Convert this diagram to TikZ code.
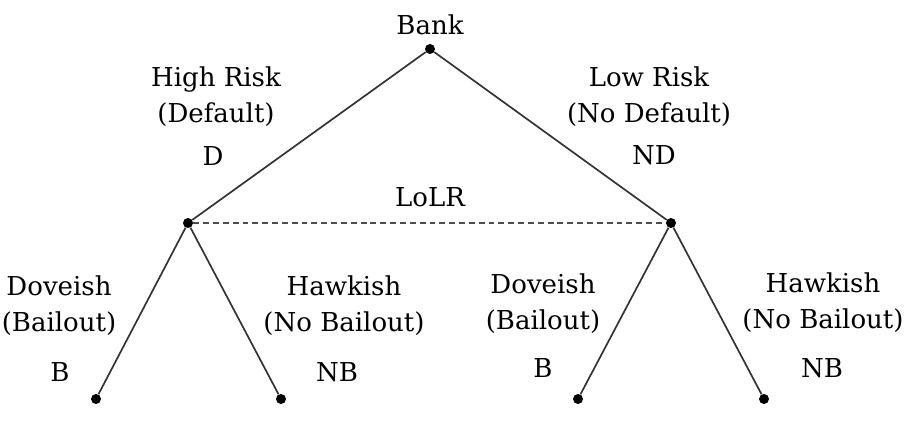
\documentclass[tikz,border=0pt]{standalone}
\usepackage{fontspec}
\setmainfont{DejaVu Serif}
\usetikzlibrary{positioning}
\tikzset{
  dot/.style={circle,fill=black,inner sep=0pt,minimum size=2.5mm},
  lbl/.style={align=center,anchor=base,inner sep=0pt,font=\fontsize{18.5}{26.2}\selectfont},
  branch/.style={line width=1.2pt,black!80},
  lolr/.style={line width=1.2pt,black!70,dash pattern=on 4.2pt off 2.8pt},
}
\begin{document}
\begin{tikzpicture}[x=0.025cm,y=-0.025cm]
    \useasboundingbox (0,0) rectangle (914,444);
    %% Decision points
    \node[dot] (bank) at (430,49)  {};
    \node[dot] (hr)   at (188,223) {};
    \node[dot] (lr)   at (671,223) {};
    \node[dot] (hrb)  at (96,399)  {};
    \node[dot] (hrnb) at (281,399) {};
    \node[dot] (lrb)  at (578,399) {};
    \node[dot] (lrnb) at (764,399) {};
    %% Branches
    \draw[branch] (bank)--(hr);
    \draw[branch] (bank)--(lr);
    \draw[branch] (hr)--(hrb);
    \draw[branch] (hr)--(hrnb);
    \draw[branch] (lr)--(lrb);
    \draw[branch] (lr)--(lrnb);
    %% Information set
    \draw[lolr] (hr)--(lr);
    %% Labels
    \node[lbl] (banklbl) at (430,35)  {Bank};
    \node[lbl] (lolrlbl) at (430,207) {LoLR};
    \node[lbl] (hrlbl)   at (216,123) {High Risk\\(Default)};
    \node[lbl] (hrlet)   at (213,166) {D};
    \node[lbl] (lrlbl)   at (649,123) {Low Risk\\(No Default)};
    \node[lbl] (lrlet)   at (654,165) {ND};
    \node[lbl] (hrblbl)  at (59,332)  {Doveish\\(Bailout)};
    \node[lbl] (hrblet)  at (60,382)  {B};
    \node[lbl] (hrnblbl) at (344,332) {Hawkish\\(No Bailout)};
    \node[lbl] (hrnblet) at (337,382) {NB};
    \node[lbl] (lrblbl)  at (543,330) {Doveish\\(Bailout)};
    \node[lbl] (lrblet)  at (543,378) {B};
    \node[lbl] (lrnblbl) at (823,329) {Hawkish\\(No Bailout)};
    \node[lbl] (lrnblet) at (822,378) {NB};
  \end{tikzpicture}
\end{document}
